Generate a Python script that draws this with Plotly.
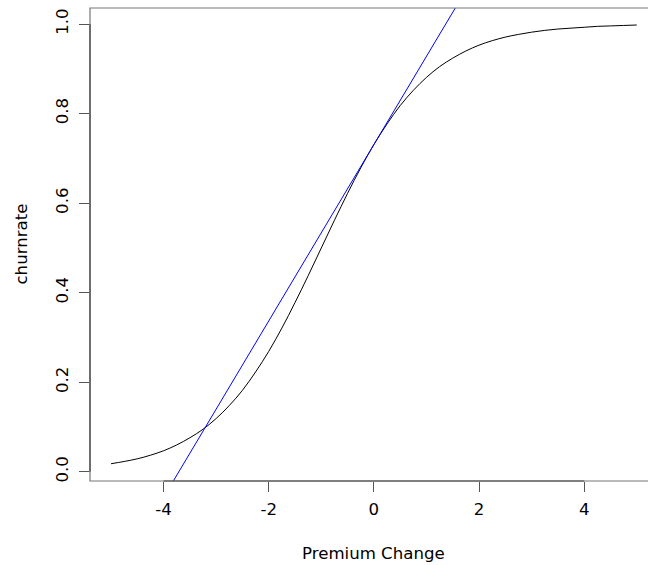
import plotly.graph_objects as go

# Data
premium_change = [-5.0, -4.75, -4.5, -4.25, -4.0, -3.75, -3.5, -3.25, -3.0, -2.75,
                  -2.5, -2.25, -2.0, -1.75, -1.5, -1.25, -1.0, -0.75, -0.5, -0.25,
                  0.0, 0.25, 0.5, 0.75, 1.0, 1.25, 1.5, 1.75, 2.0, 2.25,
                  2.5, 2.75, 3.0, 3.25, 3.5, 3.75, 4.0, 4.25, 4.5, 4.75, 5.0]
churnrate = [0.018, 0.023, 0.029, 0.037, 0.047, 0.060, 0.076, 0.095, 0.119, 0.148,
             0.182, 0.223, 0.269, 0.321, 0.378, 0.438, 0.500, 0.562, 0.622, 0.679,
             0.731, 0.777, 0.818, 0.852, 0.881, 0.905, 0.924, 0.940, 0.953, 0.963,
             0.971, 0.977, 0.982, 0.986, 0.989, 0.991, 0.993, 0.995, 0.996, 0.997, 0.998]

# Tangent line (blue)
tangent_intercept = 0.731
tangent_slope = 0.197

x_ticks = [-4, -2, 0, 2, 4]
y_ticks = [0.0, 0.2, 0.4, 0.6, 0.8, 1.0]
x_label = "Premium Change"
y_label = "churnrate"

x_range = [-5.4, 5.214]
y_range = [-0.0206, 1.036]

line_x = [x_range[0], x_range[1]]
line_y = [tangent_intercept + tangent_slope * v for v in line_x]

FONT = "DejaVu Sans"
FS = 16.6

fig = go.Figure()
fig.add_trace(go.Scatter(x=premium_change, y=churnrate, mode="lines",
                         line=dict(color="black", width=1, shape="spline"),
                         hoverinfo="skip", showlegend=False))
fig.add_trace(go.Scatter(x=line_x, y=line_y, mode="lines",
                         line=dict(color="#0000FF", width=1),
                         hoverinfo="skip", showlegend=False))

fig.update_layout(
    width=648, height=565,
    margin=dict(l=90, r=0, t=8, b=84),
    paper_bgcolor="white", plot_bgcolor="white",
    font=dict(family=FONT, size=FS, color="black"),
    showlegend=False,
    xaxis=dict(range=x_range, tickvals=x_ticks, ticktext=[str(v) for v in x_ticks],
               showgrid=False, zeroline=False, showline=False,
               ticks="outside", ticklen=10, tickwidth=1, tickcolor="#555",
               tickfont=dict(family=FONT, size=FS, color="black"),
               ticklabelstandoff=3),
    yaxis=dict(range=y_range, tickvals=y_ticks, ticktext=["%.1f" % v for v in y_ticks],
               showgrid=False, zeroline=False, showline=False,
               ticks="outside", ticklen=10, tickwidth=1, tickcolor="#555",
               tickangle=-90,
               tickfont=dict(family=FONT, size=FS, color="black"),
               ticklabelstandoff=4),
    shapes=[
        dict(type="rect", xref="paper", yref="paper", x0=0, x1=1.05, y0=0, y1=1,
             line=dict(color="#777", width=1.2), layer="above"),
        dict(type="line", xref="x", yref="paper", x0=-4, x1=4, y0=0, y1=0,
             line=dict(color="#444", width=1.2), layer="above"),
        dict(type="line", xref="paper", yref="y", x0=0, x1=0, y0=0, y1=1,
             line=dict(color="#444", width=1.2), layer="above"),
    ],
    annotations=[
        dict(text=x_label, xref="x", yref="paper", x=0, y=0, yshift=-72,
             showarrow=False, xanchor="center", yanchor="middle",
             font=dict(family=FONT, size=FS, color="black")),
        dict(text=y_label, xref="paper", yref="paper", x=0, y=0.5, xshift=-69,
             showarrow=False, textangle=-90, xanchor="center", yanchor="middle",
             font=dict(family=FONT, size=FS, color="black")),
    ],
)

fig.write_html("out.html")
